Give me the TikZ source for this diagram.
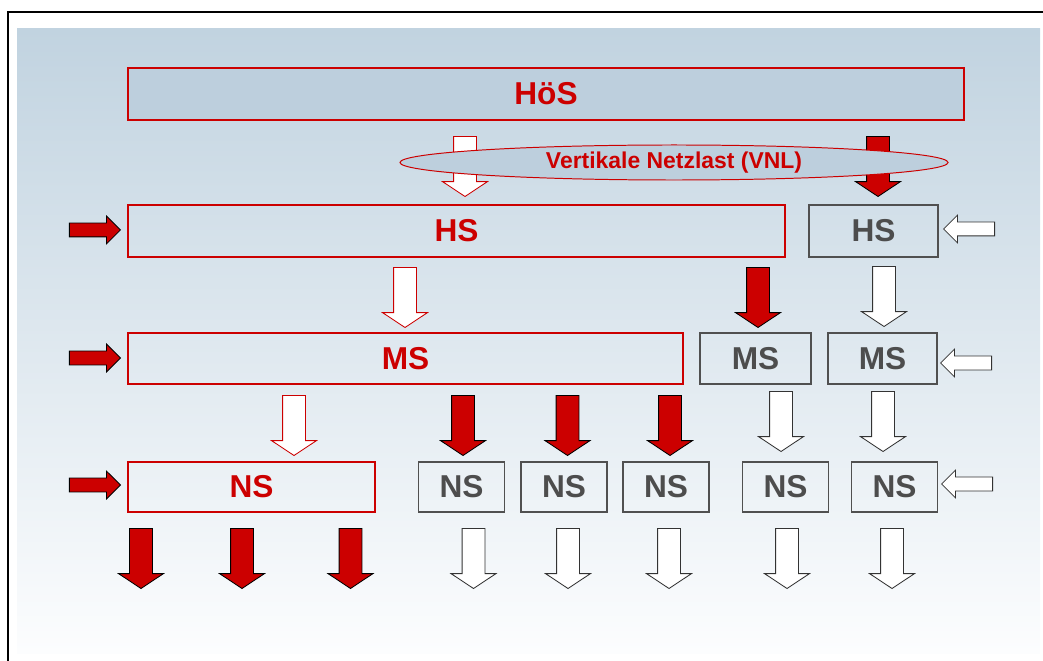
\documentclass[tikz,border=0pt]{standalone}
\usepackage{fontspec}
\setmainfont{Liberation Sans}
\usetikzlibrary{shapes.geometric,shapes.arrows}
\definecolor{cred}{HTML}{CC0000}
\definecolor{cgrey}{HTML}{4D4D4D}
\definecolor{cline}{HTML}{505050}
\definecolor{cbgtop}{HTML}{C1D3E0}
\definecolor{cbgbot}{HTML}{FCFDFE}
\definecolor{cfill}{HTML}{BDCFDD}

\begin{document}
\begin{tikzpicture}[x=0.025cm,y=-0.025cm,
  lvl/.style={rectangle,inner sep=0pt,line width=0.9pt,
              font=\fontsize{22.5}{26}\selectfont\bfseries},
  rbox/.style={lvl,draw=cred,text=cred},
  gbox/.style={lvl,draw=cline,text=cgrey},
  darr/.style={single arrow,rotate=-90,anchor=tip,inner xsep=0pt,inner ysep=0.275cm,
               minimum height=1.5cm,single arrow head extend=0.275cm,
               single arrow tip angle=113,line width=0.6pt},
  harr/.style={single arrow,anchor=tip,inner xsep=0pt,inner ysep=0.1625cm,minimum height=1.275cm,
               single arrow head extend=0.175cm,line width=0.6pt},
  redarr/.style={fill=cred,draw=black},
  whtarr/.style={fill=white,draw=cred},
  gryarr/.style={fill=white,draw=black!80}]
  \useasboundingbox (0,0) rectangle (1043,661);
  % frame and background
  \shade[top color=cbgtop,bottom color=cbgbot] (17,29) rectangle (1040,653);
  \draw[line width=1.2pt] (8,12) rectangle (1047,666);

  \node[rbox,fill=cfill,minimum width=20.9cm,minimum height=1.3cm] (hoes) at (546,94) {HöS};
  \node[darr,whtarr] (vnl-w) at (465,197) {};
  \node[darr,redarr] (vnl-r) at (878,197) {};
  \node[ellipse,draw=cred,fill=cfill,line width=0.7pt,inner sep=0pt,minimum width=13.7cm,
        minimum height=0.875cm,text=cred,font=\fontsize{16.3}{18}\selectfont\bfseries]
        (vnl) at (674,162.5) {Vertikale Netzlast (VNL)};

  % HS
  \node[rbox,minimum width=16.425cm,minimum height=1.3cm] (hs) at (456.5,231) {HS};
  \node[gbox,minimum width=3.225cm,minimum height=1.3cm] (hs2) at (873.5,231) {HS};
  \node[harr,redarr] (in-hs) at (121,230) {};
  \node[harr,gryarr,rotate=180] (in-hs2) at (943,229) {};
  \node[darr,whtarr] (hs-ms) at (405,328) {};
  \node[darr,redarr] (hs-ms1) at (758,328) {};
  \node[darr,gryarr] (hs2-ms2) at (884,327) {};

  % MS
  \node[rbox,minimum width=13.875cm,minimum height=1.275cm] (ms) at (405.5,358.5) {MS};
  \node[gbox,minimum width=2.775cm,minimum height=1.275cm] (ms1) at (755.5,358.5) {MS};
  \node[gbox,minimum width=2.725cm,minimum height=1.275cm] (ms2) at (882.5,358.5) {MS};
  \node[harr,redarr] (in-ms) at (121,358) {};
  \node[harr,gryarr,rotate=180] (in-ms2) at (940,363) {};
  \node[darr,whtarr] (ms-ns) at (294,456) {};
  \foreach \x/\n in {463/1,567.5/2,670/3}
    \node[darr,redarr] (ms-ns\n) at (\x,456) {};
  \node[darr,gryarr] (ms1-ns4) at (781,452) {};
  \node[darr,gryarr] (ms2-ns5) at (883,452) {};

  % NS
  \node[rbox,minimum width=6.175cm,minimum height=1.25cm] (ns) at (251.5,487) {NS};
  \foreach \x/\n in {461.5/1,564/2,666/3,785.5/4,894.5/5}
    \node[gbox,minimum width=2.15cm,minimum height=1.25cm] (ns\n) at (\x,487) {NS};
  \node[harr,redarr] (in-ns) at (121,485) {};
  \node[harr,gryarr,rotate=180] (in-ns5) at (941,484) {};
  \foreach \x/\n in {141/a,242/b,350.5/c}
    \node[darr,redarr] (out-\n) at (\x,589) {};
  \foreach \x/\n in {473.5/1,568/2,669/3,787/4,892/5}
    \node[darr,gryarr] (out-\n) at (\x,589) {};
\end{tikzpicture}
\end{document}
